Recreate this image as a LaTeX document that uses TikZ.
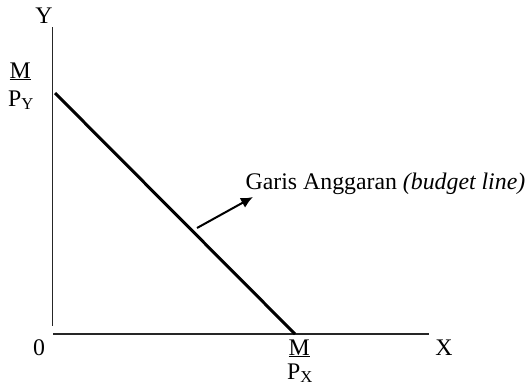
\documentclass[tikz,border=0pt]{standalone}
\usepackage{fontspec}
\setmainfont{Liberation Serif}
\usetikzlibrary{arrows.meta}
\begin{document}
\begin{tikzpicture}[x=1pt,y=-1pt,
  lbl/.style={inner sep=0pt, font=\fontsize{23.8}{28}\selectfont},
  axis/.style={line width=1.4pt, black!85},
  budget/.style={line width=3pt},
  pointer/.style={line width=2pt, -{Latex[length=12pt,width=11pt]}}]
\useasboundingbox (0,0) rectangle (527,386);
% axes
\coordinate (ytop) at (52.7,27);
\coordinate (ybot) at (52.7,326);
\coordinate (xl) at (53,334);
\coordinate (xr) at (429,334);
\draw[axis] (ytop) -- (ybot);
\draw[axis] (xl) -- (xr);
% budget line
\coordinate (bA) at (55,93);
\coordinate (bB) at (295,334);
\draw[budget] (bA) -- (bB);
% pointer arrow
\coordinate (ar0) at (197,228);
\coordinate (ar1) at (253,197);
\draw[pointer] (ar0) -- (ar1);
% labels
\node[lbl, anchor=base] (ylab) at (44,23) {Y};
\node[lbl, anchor=base west] (m1) at (9.5,78) {\underline{M}};
\node[lbl, anchor=base west] (p1) at (8,106) {P\textsubscript{Y}};
\node[lbl, anchor=base west] (gl) at (245.5,189) {Garis Anggaran \textit{(budget line)}};
\node[lbl, anchor=base] (zero) at (39,355) {0};
\node[lbl, anchor=base west] (m2) at (288.5,355) {\underline{M}};
\node[lbl, anchor=base west] (p2) at (287,379) {P\textsubscript{X}};
\node[lbl, anchor=base] (xlab) at (444,355) {X};
\end{tikzpicture}
\end{document}
